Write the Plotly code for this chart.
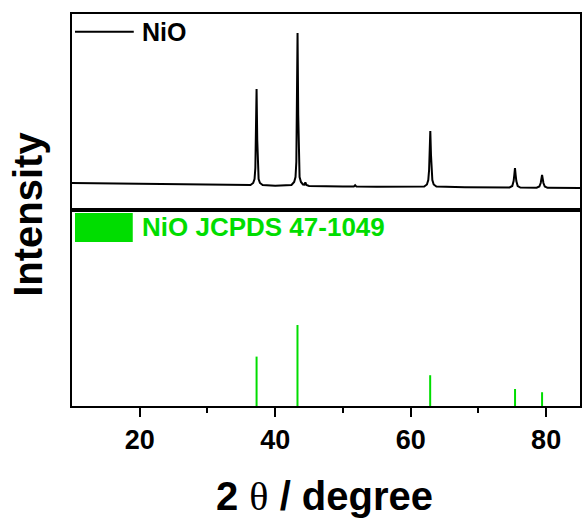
import plotly.graph_objects as go

# ---- data ----
two_theta = [10, 15, 20, 25, 30, 35,
             36.35, 36.75, 36.95, 37.07, 37.15, 37.25, 37.35, 37.43, 37.55, 37.75, 38.15,
             40,
             42.4, 42.8, 43.0, 43.12, 43.2, 43.3, 43.4, 43.48, 43.6, 43.8, 44.1, 44.3, 44.45, 44.6, 45,
             50, 51.6, 51.8, 52.0, 55, 60,
             62.0, 62.4, 62.6, 62.72, 62.8, 62.9, 63.0, 63.08, 63.2, 63.4, 63.8,
             68, 72,
             74.6, 75.0, 75.2, 75.3, 75.4, 75.5, 75.6, 75.8, 76.2,
             78.6, 79.0, 79.2, 79.3, 79.4, 79.5, 79.6, 79.8, 80.2,
             85]
intensity = [27, 26.5, 26, 25.5, 25, 24.5,
             25, 27, 31, 42, 70, 121, 70, 42, 31, 27, 25,
             24.3,
             25, 28, 33, 48, 95, 177, 95, 48, 33, 28, 25.5, 25.3, 27.5, 25, 24,
             23.5, 23.4, 24.8, 23.4, 23.3, 23,
             23.5, 25.5, 30, 40, 55, 79, 55, 40, 30, 25.5, 23.5,
             22.8, 22.6,
             22.6, 24, 29, 35, 42, 35, 29, 24, 22.5,
             22.3, 23.5, 27, 31, 35, 31, 27, 23.5, 22.2,
             22]

ref_positions = [37.25, 43.29, 62.88, 75.41, 79.40]
ref_intensity = [61, 100, 38, 21, 17]

x_ticks = [20, 40, 60, 80]
GREEN = "rgb(0,221,0)"
FONT = "Liberation Sans, Arial, sans-serif"

# stick pattern for the reference card
stick_x, stick_y = [], []
for p, h in zip(ref_positions, ref_intensity):
    stick_x += [p, p, None]
    stick_y += [0, h, None]

fig = go.Figure()
fig.add_trace(go.Scatter(x=two_theta, y=intensity, mode="lines",
                         line=dict(color="black", width=2),
                         xaxis="x2", yaxis="y2", showlegend=False))
fig.add_trace(go.Scatter(x=stick_x, y=stick_y, mode="lines",
                         line=dict(color=GREEN, width=2),
                         xaxis="x", yaxis="y", showlegend=False))

axis_common = dict(range=[10, 85], showline=True, linecolor="black", linewidth=2,
                   mirror=True, showgrid=False, zeroline=False)
fig.update_layout(
    width=583, height=527,
    margin=dict(l=72, r=1, t=14, b=121),
    paper_bgcolor="white", plot_bgcolor="white",
    font=dict(family=FONT, color="black"),
    xaxis=dict(**axis_common, domain=[0, 1], anchor="y",
               tickmode="array", tickvals=x_ticks,
               ticktext=["<b>%d</b>" % v for v in x_ticks],
               ticks="outside", ticklen=9, tickwidth=2, tickcolor="black",
               tickfont=dict(family=FONT, size=27, color="black"),
               minor=dict(tickvals=[30, 50, 70], ticks="outside", ticklen=5,
                          tickwidth=2, tickcolor="black")),
    xaxis2=dict(**axis_common, domain=[0, 1], anchor="y2", matches="x",
                showticklabels=False, ticks=""),
    yaxis=dict(domain=[0, 0.5], range=[0, 242], showline=True, linecolor="black",
               linewidth=2, mirror=True, showgrid=False, zeroline=False,
               showticklabels=False, ticks=""),
    yaxis2=dict(domain=[0.5, 1], range=[0, 196], showline=True, linecolor="black",
                linewidth=2, mirror=True, showgrid=False, zeroline=False,
                showticklabels=False, ticks=""),
)

# legend-like decorations
fig.add_shape(type="line", xref="paper", yref="paper", x0=0.0059, x1=0.1216,
              y0=0.9548, y1=0.9548, line=dict(color="black", width=2))
fig.add_annotation(xref="paper", yref="paper", x=0.1340, y=0.9548, xanchor="left",
                   yanchor="middle", text="<b>NiO</b>", showarrow=False,
                   font=dict(family=FONT, size=25, color="black"))
fig.add_shape(type="rect", xref="paper", yref="paper", x0=0.0059, x1=0.1196,
              y0=0.4184, y1=0.4923, fillcolor=GREEN, line=dict(width=0))
fig.add_annotation(xref="paper", yref="paper", x=0.1340, y=0.4554, xanchor="left",
                   yanchor="middle", text="<b>NiO JCPDS 47-1049</b>", showarrow=False,
                   font=dict(family=FONT, size=26, color=GREEN))

# axis titles
fig.add_annotation(xref="paper", yref="paper", x=-0.0880, y=0.4885, xanchor="center",
                   yanchor="middle", text="<b>Intensity</b>", textangle=-90,
                   showarrow=False, font=dict(family=FONT, size=40, color="black"))
fig.add_annotation(xref="paper", yref="paper", x=0.498, y=-0.232, xanchor="center",
                   yanchor="middle",
                   text="<b>2 </b><span style='font-family:Liberation Serif, Times New Roman, serif'>θ</span><b> / degree</b>",
                   showarrow=False, font=dict(family=FONT, size=40, color="black"))

fig.write_html("out.html")
